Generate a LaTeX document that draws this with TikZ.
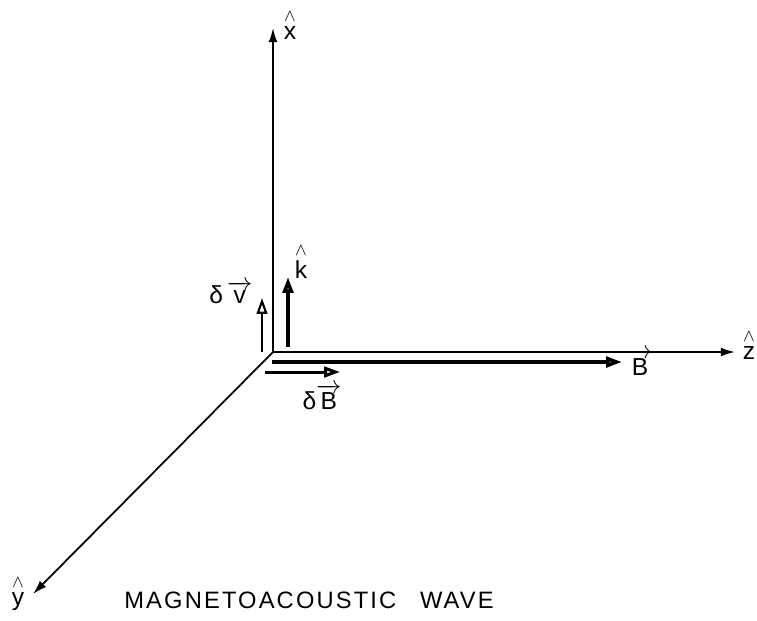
\documentclass[tikz,border=0pt]{standalone}
\usepackage{amsmath}
\usepackage{fontspec}
\setmainfont{Liberation Sans}
\setsansfont{Liberation Sans}
\usetikzlibrary{arrows.meta, positioning}
\newcommand{\unitv}[1]{$\overset{\wedge}{\mathrm{#1}}$}
\newcommand{\arrv}[1]{$\overrightarrow{\mathrm{#1}}$}
\tikzset{
  axis/.style={-{Latex[length=8pt,width=5pt]}, line width=1pt},
  vect/.style={-{Triangle[open,length=9pt,width=6pt]}, line width=2pt},
  lbl/.style={font=\fontsize{14}{16}\selectfont, inner sep=1pt},
  title/.style={font=\fontsize{13.5}{16}\addfontfeatures{LetterSpace=9}\selectfont, inner sep=0pt}
}

\begin{document}
\begin{tikzpicture}[x=0.02cm, y=-0.02cm]
\useasboundingbox (0,0) rectangle (757,620);
% axes
\coordinate (O)    at (273,352);
\coordinate (xtip) at (273,28);
\coordinate (ztip) at (735,352);
\coordinate (ytip) at (33,594);
\draw [axis] (O) -- (xtip);
\draw [axis] (O) -- (ztip);
\draw [axis] (O) -- (ytip);
\node (xlbl) [lbl] at (290,24)  {\unitv{x}};
\node (zlbl) [lbl] at (749,344) {\unitv{z}};
\node (ylbl) [lbl] at (18,593)  {\unitv{y}};

% vectors
\coordinate (Bs)  at (272,362);
\coordinate (Be)  at (622,362);
\coordinate (dBs) at (265,372);
\coordinate (dBe) at (340,372);
\coordinate (ks)  at (288,347);
\coordinate (ke)  at (288,277);
\coordinate (dvs) at (262,352);
\coordinate (dve) at (262,298);
\draw [vect] (Bs) -- (Be);
\draw [vect, line width=1.7pt] (dBs) -- (dBe);
\draw [vect] (ks) -- (ke);
\draw [vect, line width=1.2pt] (dvs) -- (dve);
\node (Blbl)  [lbl] at (640,362) {\arrv{B}};
\node (dBlbl) [lbl] at (322,397) {δ\arrv{B}};
\node (klbl)  [lbl] at (301,261) {\unitv{k}};
\node (dvlbl) [lbl] at (231,292) {δ\,\arrv{v}};

\node (title) [title] at (309,600) {MAGNETOACOUSTIC\quad WAVE};
\end{tikzpicture}
\end{document}
